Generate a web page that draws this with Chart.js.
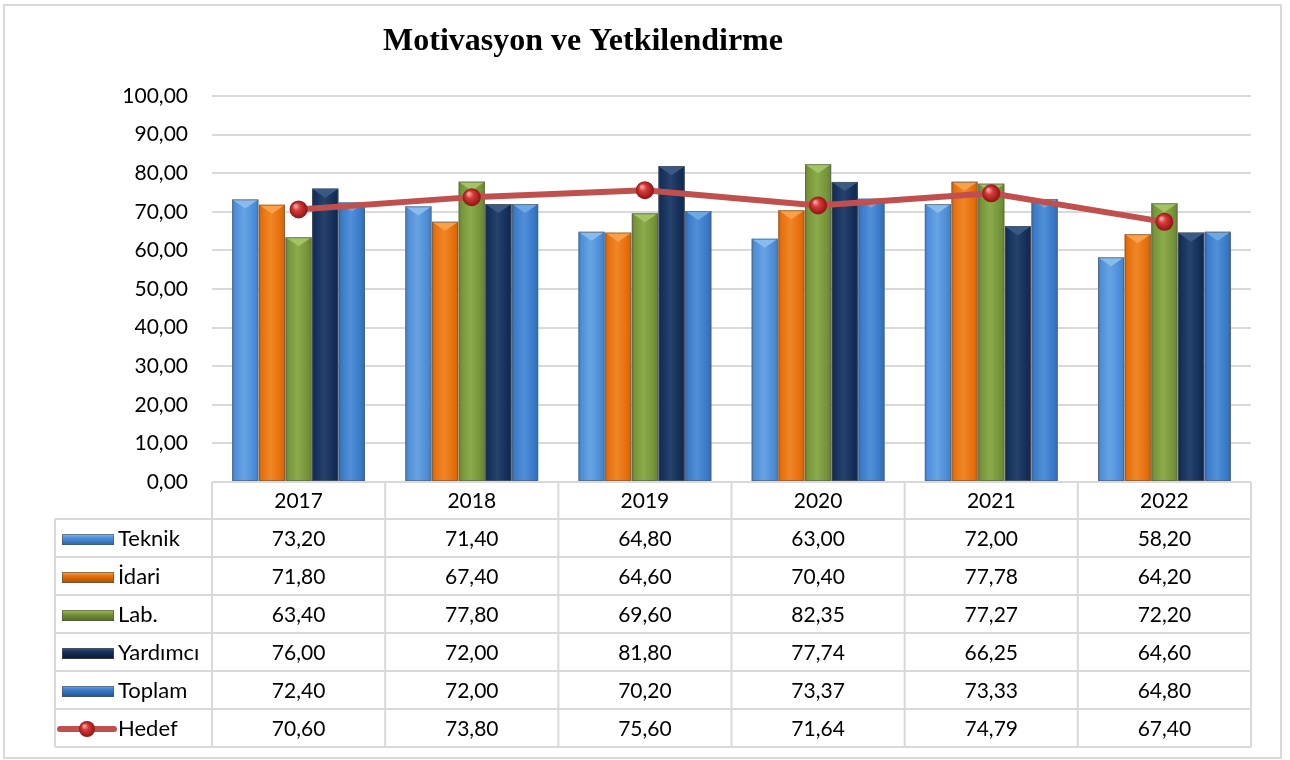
<!DOCTYPE html>
<html>
<head>
<meta charset="utf-8">
<script src="https://cdn.jsdelivr.net/npm/chart.js@4.4.1/dist/chart.umd.min.js"></script>
<style>
  html, body { margin: 0; padding: 0; background: #fff; }
  #wrap { width: 1290px; height: 760px; position: relative; }
</style>
</head>
<body>
<div id="wrap"><canvas id="motivChart" width="1290" height="760"></canvas></div>
<script>
// Motivasyon ve Yetkilendirme - bar + line with data table underneath
const years = ["2017", "2018", "2019", "2020", "2021", "2022"];
const teknik = [73.20, 71.40, 64.80, 63.00, 72.00, 58.20];
const idari = [71.80, 67.40, 64.60, 70.40, 77.78, 64.20];
const lab = [63.40, 77.80, 69.60, 82.35, 77.27, 72.20];
const yardimci = [76.00, 72.00, 81.80, 77.74, 66.25, 64.60];
const toplam = [72.40, 72.00, 70.20, 73.37, 73.33, 64.80];
const hedef = [70.60, 73.80, 75.60, 71.64, 74.79, 67.40];
const yTicks = [0, 10, 20, 30, 40, 50, 60, 70, 80, 90, 100];

const FONT = "Lato, 'Open Sans', sans-serif";
const fmt = v => v.toFixed(2).replace(".", ",");

// base colour, light colour, dark colour for the bevel look
const barStyles = [
  { base: "#4F8FDA", light: "#86BDEE", dark: "#2F6BB0" },
  { base: "#E8700C", light: "#F7A24A", dark: "#B45306" },
  { base: "#77963A", light: "#A3C463", dark: "#556E24" },
  { base: "#15305A", light: "#3A5A84", dark: "#0B1B34" },
  { base: "#3A7CCB", light: "#6DA8E6", dark: "#25589A" }
];

const ctx = document.getElementById("motivChart").getContext("2d");

// draws the bevelled bar faces on top of the plain bars
const bevelPlugin = {
  id: "bevel",
  afterDatasetDraw(chart, args) {
    const meta = args.meta;
    if (meta.type !== "bar") return;
    const st = barStyles[args.index];
    const c = chart.ctx;
    c.save();
    meta.data.forEach(el => {
      const w = el.width, x0 = el.x - w / 2, x1 = el.x + w / 2;
      const top = el.y, bot = el.base;
      const g = c.createLinearGradient(x0, 0, x1, 0);
      g.addColorStop(0, st.dark);
      g.addColorStop(0.12, st.base);
      g.addColorStop(0.45, st.light);
      g.addColorStop(0.8, st.base);
      g.addColorStop(1, st.dark);
      c.globalAlpha = 0.45;
      c.fillStyle = g;
      c.fillRect(x0, top, w, bot - top);
      c.globalAlpha = 1;
      // top bevel triangle
      const bh = Math.min(9, bot - top);
      c.fillStyle = st.light;
      c.beginPath();
      c.moveTo(x0, top);
      c.lineTo(x1, top);
      c.lineTo(el.x, top + bh);
      c.closePath();
      c.fill();
      c.strokeStyle = "rgba(90,90,90,0.6)";
      c.lineWidth = 1;
      c.strokeRect(x0 + 0.5, top + 0.5, w - 1, bot - top - 1);
    });
    c.restore();
  }
};

// red sphere markers
function drawBall(c, x, y, r) {
  const g = c.createRadialGradient(x - r * 0.35, y - r * 0.4, r * 0.1, x, y, r);
  g.addColorStop(0, "#F7A0A0");
  g.addColorStop(0.35, "#D83A3A");
  g.addColorStop(1, "#8E1414");
  c.fillStyle = g;
  c.beginPath();
  c.arc(x, y, r, 0, Math.PI * 2);
  c.fill();
}

const ballPlugin = {
  id: "balls",
  afterDatasetDraw(chart, args) {
    if (args.meta.type !== "line") return;
    const c = chart.ctx;
    c.save();
    args.meta.data.forEach(p => drawBall(c, p.x, p.y, 9));
    c.restore();
  }
};

// title + data table + outer frame
const tablePlugin = {
  id: "dataTable",
  afterDraw(chart) {
    const c = chart.ctx;
    const area = chart.chartArea;
    const xs = chart.scales.x;
    const rows = chart.data.datasets;
    const headTop = area.bottom;
    const rowH = 38;
    const headH = 37;
    const legLeft = 55;
    const step = xs.getPixelForValue(1) - xs.getPixelForValue(0);
    c.save();

    // outer frame
    c.strokeStyle = "#D9D9D9";
    c.lineWidth = 2;
    c.strokeRect(4, 5, 1277, 753);

    // title
    c.fillStyle = "#000";
    c.font = "bold 32px 'Liberation Serif', 'Times New Roman', serif";
    c.textAlign = "center";
    c.textBaseline = "middle";
    c.fillText("Motivasyon ve Yetkilendirme", 583, 42);

    // grid of the table
    const tableBottom = headTop + headH + rowH * rows.length;
    c.strokeStyle = "#D9D9D9";
    c.lineWidth = 2;
    c.beginPath();
    for (let i = 0; i <= years.length; i++) {
      const x = area.left + step * i;
      c.moveTo(x, headTop);
      c.lineTo(x, tableBottom);
    }
    c.moveTo(legLeft, headTop + headH);
    c.lineTo(legLeft, tableBottom);
    for (let r = 0; r <= rows.length; r++) {
      const y = headTop + headH + rowH * r;
      c.moveTo(legLeft, y);
      c.lineTo(area.right, y);
    }
    c.moveTo(area.left, headTop);
    c.lineTo(area.right, headTop);
    c.stroke();

    c.fillStyle = "#000";
    c.font = "21px " + FONT;
    c.textAlign = "center";
    years.forEach((yr, i) => {
      c.fillText(yr, xs.getPixelForValue(i), headTop + headH / 2 + 1);
    });

    rows.forEach((ds, r) => {
      const yc = headTop + headH + rowH * r + rowH / 2 + 1;
      c.textAlign = "center";
      c.fillStyle = "#000";
      ds.data.forEach((v, i) => c.fillText(fmt(v), xs.getPixelForValue(i), yc));
      // legend key
      if (ds.type === "line") {
        c.strokeStyle = "#C0504D";
        c.lineWidth = 6;
        c.lineCap = "round";
        c.beginPath();
        c.moveTo(60, yc);
        c.lineTo(114, yc);
        c.stroke();
        drawBall(c, 87, yc, 8);
      } else {
        const st = barStyles[r];
        const g = c.createLinearGradient(0, yc - 5, 0, yc + 5);
        g.addColorStop(0, st.light);
        g.addColorStop(0.4, st.base);
        g.addColorStop(1, st.dark);
        c.fillStyle = g;
        c.fillRect(62, yc - 5, 52, 11);
        c.strokeStyle = "rgba(80,80,80,0.6)";
        c.lineWidth = 1;
        c.strokeRect(62.5, yc - 4.5, 51, 10);
      }
      c.fillStyle = "#000";
      c.textAlign = "left";
      c.font = "22px " + FONT;
      c.fillText(ds.label, 118, yc);
      c.font = "21px " + FONT;
    });
    c.restore();
  }
};

const barSet = (label, data, i) => ({
  type: "bar",
  label: label,
  data: data,
  backgroundColor: barStyles[i].base,
  borderWidth: 0,
  order: 1,
  categoryPercentage: 0.77,
  barPercentage: 0.98
});

const chartConfig = {
  data: {
    labels: years,
    datasets: [
      barSet("Teknik", teknik, 0),
      barSet("İdari", idari, 1),
      barSet("Lab.", lab, 2),
      barSet("Yardımcı", yardimci, 3),
      barSet("Toplam", toplam, 4),
      {
        type: "line",
        label: "Hedef",
        data: hedef,
        borderColor: "#C0504D",
        borderWidth: 6,
        pointRadius: 0,
        tension: 0,
        order: 0
      }
    ]
  },
  options: {
    responsive: false,
    animation: false,
    layout: { padding: { left: 0, right: 39, top: 96, bottom: 278 } },
    plugins: {
      legend: { display: false },
      title: { display: false },
      tooltip: { enabled: false }
    },
    scales: {
      x: { display: false, offset: true },
      y: {
        min: 0,
        max: 100,
        afterFit(scale) { scale.width = 212; },
        afterBuildTicks(scale) { scale.ticks = yTicks.map(v => ({ value: v })); },
        border: { display: false },
        grid: { color: "#D9D9D9", lineWidth: 2, drawTicks: false },
        ticks: {
          padding: 24,
          color: "#000",
          font: { family: FONT, size: 21 },
          callback: v => fmt(v)
        }
      }
    }
  },
  plugins: [bevelPlugin, ballPlugin, tablePlugin]
};

let motivChart = new Chart(ctx, chartConfig);
</script>
</body>
</html>
